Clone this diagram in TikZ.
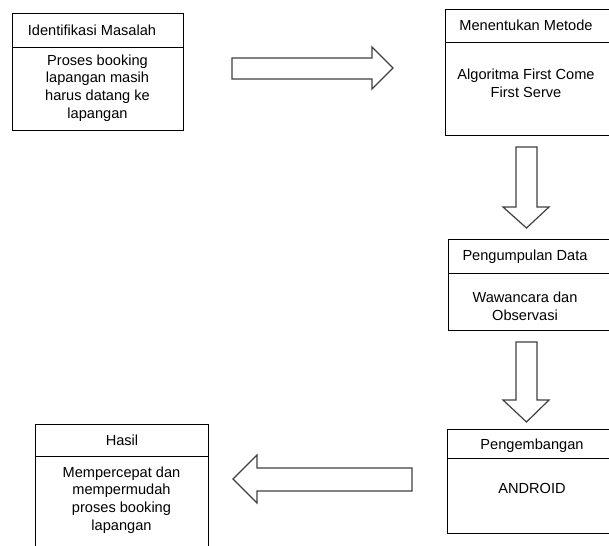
\documentclass[tikz,border=0pt]{standalone}
\usepackage{fontspec}
\setmainfont{Liberation Sans}
\begin{document}
\begin{tikzpicture}[x=1pt,y=-1pt,
  cell/.style={draw=black, line width=1.1pt, inner sep=0pt, anchor=north west},
  txt/.style={text=black, align=center, inner sep=0pt, font=\fontsize{14.6}{17.6}\selectfont},
  blockarrow/.style={draw=black!75, line width=1.2pt, fill=white, line join=miter}]
\useasboundingbox (0,0) rectangle (609,545);
\clip (0,0) rectangle (609,545);
\fill[white] (0,0) rectangle (609,545);

% Box 1: Identifikasi Masalah
\node[cell, minimum width=171pt, minimum height=34pt] (t1) at (12,13) {};
\node[cell, minimum width=171pt, minimum height=83pt] (b1) at (12,47) {};
\node[txt] (tt1) at (92,30) {Identifikasi Masalah};
\node[txt] (bt1) at (97.5,88) {Proses booking\\lapangan masih\\harus datang ke\\lapangan};

% Box 2: Menentukan Metode
\node[cell, minimum width=170pt, minimum height=33pt] (t2) at (445,9) {};
\node[cell, minimum width=170pt, minimum height=93pt] (b2) at (445,42) {};
\node[txt] (tt2) at (526,25.5) {Menentukan Metode};
\node[txt] (bt2) at (526,83.5) {Algoritma First Come\\First Serve};

% Box 3: Pengumpulan Data
\node[cell, minimum width=170pt, minimum height=34pt] (t3) at (448,239) {};
\node[cell, minimum width=170pt, minimum height=57pt] (b3) at (448,273) {};
\node[txt] (tt3) at (525,256.5) {Pengumpulan Data};
\node[txt] (bt3) at (525,306) {Wawancara dan\\Observasi};

% Box 4: Pengembangan
\node[cell, minimum width=175pt, minimum height=29pt] (t4) at (447,429) {};
\node[cell, minimum width=175pt, minimum height=75pt] (b4) at (447,458) {};
\node[txt] (tt4) at (532,445.5) {Pengembangan};
\node[txt] (bt4) at (532,488) {ANDROID};

% Box 5: Hasil
\node[cell, minimum width=173pt, minimum height=32pt] (t5) at (35,424) {};
\node[cell, minimum width=173pt, minimum height=110pt] (b5) at (35,456) {};
\node[txt] (tt5) at (122,440) {Hasil};
\node[txt] (bt5) at (121.5,500) {Mempercepat dan\\mempermudah\\proses booking\\lapangan};

% Block arrows
\draw[blockarrow] (232,58) -- (372,58) -- (372,47) -- (393,68) -- (372,89) -- (372,79) -- (232,79) -- cycle;
\draw[blockarrow] (516,147) -- (537,147) -- (537,207) -- (549,207) -- (526.5,228) -- (503,207) -- (516,207) -- cycle;
\draw[blockarrow] (516,342) -- (537,342) -- (537,400) -- (549,400) -- (526.5,422) -- (503,400) -- (516,400) -- cycle;
\draw[blockarrow] (412,468) -- (257,468) -- (257,455) -- (233,479) -- (257,503) -- (257,491) -- (412,491) -- cycle;
\end{tikzpicture}
\end{document}
